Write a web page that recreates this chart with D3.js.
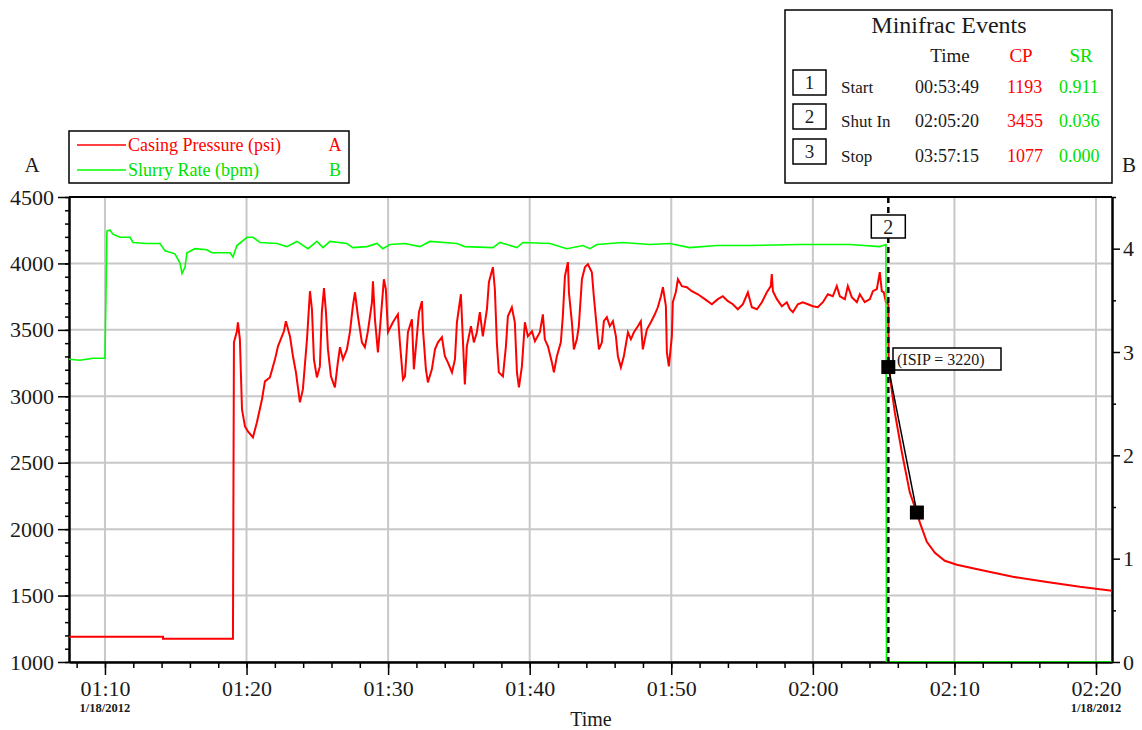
<!DOCTYPE html>
<html><head><meta charset="utf-8">
<script src="https://cdn.jsdelivr.net/npm/d3@7"></script>
<style>
body{margin:0;background:#fff;}
svg{display:block;font-family:"Liberation Serif","Times New Roman",serif;}
</style></head><body>
<svg id="c" width="1142" height="730"></svg>
<script>
// ---- DATA (time = minutes after 01:00 on 1/18/2012) ----
const casingPressure = [[7.46,1190],[14.1,1190],[14.1,1175],[19.04,1175],[19.11,3406],[19.32,3489],[19.39,3557],[19.53,3429],[19.6,3180],[19.68,2901],[19.89,2773],[20.1,2735],[20.45,2690],[20.73,2803],[21.09,2976],[21.3,3112],[21.65,3142],[22.01,3278],[22.22,3376],[22.64,3489],[22.78,3565],[23.07,3451],[23.28,3301],[23.49,3180],[23.77,2954],[23.98,3052],[24.27,3429],[24.48,3791],[24.62,3655],[24.76,3278],[24.97,3142],[25.18,3225],[25.32,3633],[25.47,3814],[25.61,3633],[25.75,3353],[25.96,3150],[26.24,3067],[26.45,3255],[26.6,3369],[26.81,3278],[27.09,3353],[27.3,3482],[27.51,3678],[27.66,3783],[27.87,3602],[28.15,3406],[28.36,3369],[28.57,3489],[28.86,3708],[28.93,3866],[29.07,3580],[29.28,3331],[29.42,3504],[29.7,3881],[29.84,3806],[29.99,3482],[30.34,3557],[30.69,3617],[30.83,3406],[31.05,3127],[31.19,3150],[31.4,3482],[31.68,3580],[31.82,3203],[32.03,3451],[32.18,3633],[32.39,3716],[32.46,3504],[32.67,3203],[32.81,3105],[33.09,3203],[33.31,3353],[33.52,3406],[33.8,3444],[34.01,3301],[34.22,3255],[34.51,3180],[34.72,3278],[34.86,3557],[35.14,3768],[35.28,3429],[35.42,3089],[35.56,3376],[35.85,3527],[36.06,3406],[36.27,3482],[36.48,3633],[36.69,3451],[36.84,3557],[36.98,3655],[37.12,3859],[37.4,3972],[37.54,3806],[37.68,3406],[37.82,3180],[38.11,3150],[38.32,3376],[38.46,3602],[38.74,3670],[38.95,3557],[39.1,3180],[39.24,3067],[39.45,3225],[39.66,3557],[39.87,3451],[40.16,3489],[40.37,3414],[40.72,3482],[40.93,3617],[41.07,3429],[41.29,3376],[41.57,3255],[41.71,3180],[41.92,3301],[42.2,3406],[42.34,3602],[42.49,3904],[42.7,4010],[42.77,3783],[42.98,3557],[43.12,3353],[43.33,3429],[43.47,3527],[43.69,3881],[43.9,3972],[44.11,3995],[44.39,3934],[44.53,3753],[44.75,3504],[44.89,3353],[45.1,3406],[45.24,3565],[45.45,3595],[45.66,3527],[45.88,3565],[46.09,3451],[46.23,3301],[46.44,3218],[46.65,3301],[46.94,3482],[47.15,3429],[47.36,3482],[47.64,3527],[47.85,3565],[47.99,3353],[48.28,3504],[48.56,3557],[48.84,3617],[49.05,3670],[49.27,3753],[49.41,3821],[49.62,3678],[49.69,3331],[49.83,3225],[50.04,3451],[50.11,3708],[50.32,3783],[50.47,3881],[50.75,3829],[51.1,3821],[51.45,3791],[51.88,3768],[52.37,3731],[52.87,3693],[53.29,3731],[53.64,3753],[54.0,3716],[54.35,3693],[54.7,3655],[55.06,3693],[55.41,3783],[55.69,3670],[56.05,3655],[56.4,3708],[56.75,3783],[57.03,3829],[57.1,3919],[57.18,3791],[57.46,3731],[57.81,3678],[58.16,3708],[58.38,3655],[58.59,3633],[58.94,3693],[59.29,3708],[59.65,3693],[60.0,3678],[60.35,3670],[60.71,3708],[61.06,3768],[61.41,3753],[61.69,3829],[61.91,3753],[62.26,3731],[62.47,3829],[62.75,3746],[63.11,3708],[63.32,3768],[63.67,3708],[64.03,3731],[64.24,3791],[64.52,3806],[64.73,3934],[64.87,3791],[65.01,3783],[65.16,3708],[65.33,3693],[65.35,3300],[65.47,3127],[65.79,2878],[66.29,2577],[66.85,2275],[67.34,2124],[67.56,2049],[68.05,1905],[68.62,1822],[69.32,1762],[70.17,1732],[71.79,1694],[74.12,1641],[76.53,1603],[78.86,1566],[81.13,1536]];

const slurryRate = [[7.46,2.93],[8.23,2.92],[9.15,2.94],[10.0,2.94],[10.14,4.17],[10.35,4.18],[10.56,4.14],[11.06,4.11],[11.77,4.11],[11.98,4.06],[12.97,4.05],[13.88,4.05],[14.24,3.98],[14.94,3.95],[15.3,3.86],[15.44,3.76],[15.65,3.82],[15.79,3.96],[16.36,4.0],[17.2,3.99],[17.56,3.96],[18.83,3.96],[19.04,3.92],[19.32,4.03],[20.03,4.11],[20.45,4.11],[20.95,4.06],[22.15,4.05],[22.85,4.02],[23.56,4.07],[24.34,4.0],[24.97,4.07],[25.4,4.01],[25.89,4.07],[27.09,4.05],[27.51,4.01],[28.5,4.02],[29.21,4.05],[29.63,4.0],[30.13,4.04],[31.19,4.05],[32.25,4.02],[32.95,4.07],[34.86,4.05],[35.42,4.02],[37.4,4.01],[37.9,4.06],[39.1,4.01],[39.52,4.06],[41.43,4.05],[42.63,4.0],[43.76,4.03],[44.25,4.0],[44.75,4.04],[46.58,4.06],[48.49,4.04],[49.9,4.05],[51.31,4.01],[53.22,4.03],[55.55,4.03],[59.08,4.04],[62.61,4.04],[64.73,4.02],[65.16,4.04],[65.2,0],[81.13,0]];

const xDomainMin = [7.46, 81.13];
const leftTicks = [1000,1500,2000,2500,3000,3500,4000,4500];
const rightTicks = [0,1,2,3,4];
const shutInMin = 65.33;            // 02:05:20
const isipPoints = [[65.33,3220],[67.35,2125]];
const isipLabel = "(ISIP = 3220)";
const legendNames = ["Casing Pressure (psi)","Slurry Rate (bpm)"];
const legendAxes = ["A","B"];
const eventIds = ["1","2","3"];
const eventNames = ["Start","Shut In","Stop"];
const eventTimes = ["00:53:49","02:05:20","03:57:15"];
const eventCP = ["1193","3455","1077"];
const eventSR = ["0.911","0.036","0.000"];
const dateLabel = "1/18/2012";

// ---- CHART ----
const RED="#ff0000", GREEN="#00ff00", GREENTXT="#00e000", TXT="#1a1a1a";
const svg = d3.select("#c");
const base = new Date(2012,0,18,1,0,0);
const toDate = m => new Date(base.getTime()+m*60000);
const L=69, R=1112, T=197, B=662;
const x = d3.scaleTime().domain(xDomainMin.map(toDate)).range([L,R]);
const yL = d3.scaleLinear().domain([1000,4500]).range([B,T]);
const yR = d3.scaleLinear().domain([0,4.5]).range([B,T]);

// grid
const majorTimes = x.ticks(d3.timeMinute.every(10));
svg.append("g").selectAll("line").data(majorTimes).join("line")
  .attr("x1",d=>x(d)).attr("x2",d=>x(d)).attr("y1",T).attr("y2",B)
  .attr("stroke","#c8c8c8").attr("stroke-width",2);
svg.append("g").selectAll("line").data(leftTicks).join("line")
  .attr("x1",L).attr("x2",R).attr("y1",d=>yL(d)).attr("y2",d=>yL(d))
  .attr("stroke","#c8c8c8").attr("stroke-width",2);

// axes
function styleAxis(g){ g.selectAll("path,line").attr("stroke","#000"); g.select(".domain").attr("stroke-width",2); g.selectAll(".tick line").attr("stroke-width",1.5); }
const fmt = d3.timeFormat("%H:%M");
svg.append("g").attr("transform",`translate(0,${B})`)
  .call(d3.axisBottom(x).ticks(d3.timeMinute.every(2)).tickSize(6).tickFormat("").tickSizeOuter(0))
  .call(styleAxis);
const xa = svg.append("g").attr("transform",`translate(0,${B})`)
  .call(d3.axisBottom(x).ticks(d3.timeMinute.every(10)).tickSize(13).tickPadding(5).tickFormat(fmt).tickSizeOuter(0))
  .call(styleAxis);
xa.selectAll("text").attr("font-size",22).attr("fill",TXT).attr("font-family","Liberation Serif");
const dates = [majorTimes[0], majorTimes[majorTimes.length-1]];
svg.append("g").selectAll("text").data(dates).join("text")
  .attr("x",d=>x(d)).attr("y",712).attr("text-anchor","middle")
  .attr("font-size",12.5).attr("font-weight","bold").attr("fill",TXT).text(dateLabel);

const minorL = d3.range(1000,4501,100);
svg.append("g").attr("transform",`translate(${L},0)`)
  .call(d3.axisLeft(yL).tickValues(minorL).tickSize(4).tickFormat("").tickSizeOuter(0)).call(styleAxis);
const ya = svg.append("g").attr("transform",`translate(${L},0)`)
  .call(d3.axisLeft(yL).tickValues(leftTicks).tickSize(11).tickPadding(4).tickFormat(d3.format("d")).tickSizeOuter(0)).call(styleAxis);
ya.selectAll("text").attr("font-size",22).attr("fill",TXT).attr("font-family","Liberation Serif");

svg.append("g").attr("transform",`translate(${R},0)`)
  .call(d3.axisRight(yR).tickValues([0.5,1.5,2.5,3.5,4.5]).tickSize(4).tickFormat("").tickSizeOuter(0)).call(styleAxis);
const yra = svg.append("g").attr("transform",`translate(${R},0)`)
  .call(d3.axisRight(yR).tickValues(rightTicks).tickSize(8).tickPadding(3).tickFormat(d3.format("d")).tickSizeOuter(0)).call(styleAxis);
yra.selectAll("text").attr("font-size",22).attr("fill",TXT).attr("font-family","Liberation Serif");

// top border
svg.append("line").attr("x1",L).attr("x2",R).attr("y1",T).attr("y2",T).attr("stroke","#000").attr("stroke-width",2);

// axis titles
svg.append("text").attr("x",32).attr("y",172).attr("text-anchor","middle").attr("font-size",21).attr("fill",TXT).text(legendAxes[0]);
svg.append("text").attr("x",1129).attr("y",172).attr("text-anchor","middle").attr("font-size",21).attr("fill",TXT).text(legendAxes[1]);
svg.append("text").attr("x",591).attr("y",726).attr("text-anchor","middle").attr("font-size",20).attr("fill",TXT).text("Time");

// lines
const clip = svg.append("clipPath").attr("id","pc").append("rect").attr("x",L).attr("y",T-5).attr("width",R-L).attr("height",B-T+5);
const lineL = d3.line().x(d=>x(toDate(d[0]))).y(d=>yL(d[1]));
const lineR = d3.line().x(d=>x(toDate(d[0]))).y(d=>yR(d[1]));
svg.append("path").datum(casingPressure).attr("d",lineL).attr("fill","none").attr("stroke",RED).attr("stroke-width",2).attr("clip-path","url(#pc)");
svg.append("path").datum(slurryRate).attr("d",lineR).attr("fill","none").attr("stroke",GREEN).attr("stroke-width",1.6).attr("clip-path","url(#pc)");

// shut-in line
const xs = x(toDate(shutInMin));
svg.append("line").attr("x1",xs).attr("x2",xs).attr("y1",T).attr("y2",B).attr("stroke","#000").attr("stroke-width",2.5).attr("stroke-dasharray","6,4");
svg.append("rect").attr("x",xs-17).attr("y",215).attr("width",34).attr("height",23).attr("fill","#fff").attr("stroke","#000").attr("stroke-width",1.5);
svg.append("text").attr("x",xs).attr("y",234).attr("text-anchor","middle").attr("font-size",20).attr("fill",TXT).text(eventIds[1]);

// ISIP
svg.append("path").datum(isipPoints).attr("d",lineL).attr("fill","none").attr("stroke","#000").attr("stroke-width",1.5);
svg.append("rect").attr("x",893).attr("y",348).attr("width",108).attr("height",22).attr("fill","#fff").attr("stroke","#000").attr("stroke-width",1.5);
svg.append("text").attr("x",897).attr("y",365).attr("font-size",16).attr("fill",TXT).text(isipLabel);
svg.append("g").selectAll("rect").data(isipPoints).join("rect")
  .attr("x",d=>x(toDate(d[0]))-7).attr("y",d=>yL(d[1])-7).attr("width",14).attr("height",14).attr("fill","#000");

// legend
svg.append("rect").attr("x",69).attr("y",131).attr("width",280).attr("height",52).attr("fill","#fff").attr("stroke","#000").attr("stroke-width",1.5);
const legColors=[RED,GREEN], legTxt=[RED,GREENTXT];
legendNames.forEach((n,i)=>{
  const yy = 145+i*25;
  svg.append("line").attr("x1",77).attr("x2",126).attr("y1",yy).attr("y2",yy).attr("stroke",legColors[i]).attr("stroke-width",1.6);
  svg.append("text").attr("x",128).attr("y",yy+6).attr("font-size",18).attr("fill",legTxt[i]).text(n);
  svg.append("text").attr("x",335).attr("y",yy+6).attr("text-anchor","middle").attr("font-size",18).attr("fill",legTxt[i]).text(legendAxes[i]);
});

// events table
svg.append("rect").attr("x",785).attr("y",10).attr("width",327).attr("height",173).attr("fill","#fff").attr("stroke","#000").attr("stroke-width",1.5);
svg.append("text").attr("x",949).attr("y",33).attr("text-anchor","middle").attr("font-size",24).attr("fill",TXT).text("Minifrac Events");
svg.append("text").attr("x",950).attr("y",62).attr("text-anchor","middle").attr("font-size",19).attr("fill",TXT).text("Time");
svg.append("text").attr("x",1021).attr("y",62).attr("text-anchor","middle").attr("font-size",19).attr("fill",RED).text("CP");
svg.append("text").attr("x",1081).attr("y",62).attr("text-anchor","middle").attr("font-size",19).attr("fill",GREENTXT).text("SR");
const rowY=[93,127,162];
eventIds.forEach((id,i)=>{
  const y0=rowY[i];
  svg.append("rect").attr("x",793).attr("y",y0-23).attr("width",33).attr("height",25).attr("fill","#fff").attr("stroke","#000").attr("stroke-width",1.5);
  svg.append("text").attr("x",809.5).attr("y",y0-4).attr("text-anchor","middle").attr("font-size",19).attr("fill",TXT).text(id);
  svg.append("text").attr("x",841).attr("y",y0).attr("font-size",17).attr("fill",TXT).text(eventNames[i]);
  svg.append("text").attr("x",915).attr("y",y0).attr("font-size",18).attr("fill",TXT).text(eventTimes[i]);
  svg.append("text").attr("x",1007).attr("y",y0).attr("font-size",18).attr("fill",RED).text(eventCP[i]);
  svg.append("text").attr("x",1059).attr("y",y0).attr("font-size",18).attr("fill",GREENTXT).text(eventSR[i]);
});
</script>
</body></html>
